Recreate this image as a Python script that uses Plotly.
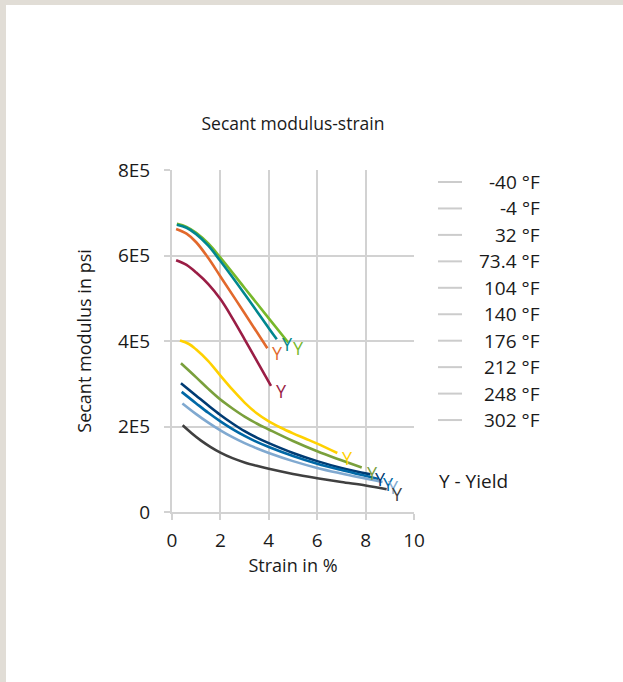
import plotly.graph_objects as go

# ---------------- data ----------------
temps = ["-40 °F", "-4 °F", "32 °F", "73.4 °F", "104 °F",
         "140 °F", "176 °F", "212 °F", "248 °F", "302 °F"]
colors = ["#77B82A", "#00878F", "#E2692C", "#9A1D45", "#FFD100",
          "#7AA03C", "#003B73", "#0068A6", "#80A9D0", "#404040"]

strain_m40 = [0.2, 0.6, 1.0, 1.5, 2.0, 3.0, 4.0, 4.81]
mod_m40 = [6.74e5, 6.67e5, 6.53e5, 6.28e5, 5.95e5, 5.24e5, 4.53e5, 3.96e5]
strain_m4 = [0.2, 0.6, 1.0, 1.5, 2.0, 3.0, 4.0, 4.33]
mod_m4 = [6.72e5, 6.65e5, 6.50e5, 6.23e5, 5.87e5, 5.10e5, 4.30e5, 4.04e5]
strain_32 = [0.17, 0.6, 1.0, 1.5, 2.0, 3.0, 3.94]
mod_32 = [6.62e5, 6.51e5, 6.31e5, 5.94e5, 5.51e5, 4.65e5, 3.83e5]
strain_73 = [0.17, 0.6, 1.0, 1.5, 2.0, 2.5, 3.0, 3.5, 4.09]
mod_73 = [5.89e5, 5.78e5, 5.60e5, 5.33e5, 4.98e5, 4.53e5, 4.04e5, 3.54e5, 2.95e5]
strain_104 = [0.33, 0.7, 1.0, 1.5, 2.0, 2.5, 3.0, 3.5, 4.0, 4.5, 5.0, 5.5, 6.0, 6.83]
mod_104 = [4.01e5, 3.93e5, 3.80e5, 3.53e5, 3.19e5, 2.86e5, 2.56e5, 2.31e5, 2.12e5,
           1.97e5, 1.84e5, 1.72e5, 1.60e5, 1.38e5]
strain_140 = [0.37, 1.0, 1.5, 2.0, 2.5, 3.0, 3.5, 4.0, 5.0, 6.0, 7.0, 7.84]
mod_140 = [3.48e5, 3.15e5, 2.88e5, 2.63e5, 2.42e5, 2.23e5, 2.07e5, 1.93e5, 1.66e5,
           1.42e5, 1.21e5, 1.04e5]
strain_176 = [0.37, 1.0, 1.5, 2.0, 2.5, 3.0, 3.5, 4.0, 5.0, 6.0, 7.0, 8.2]
mod_176 = [3.01e5, 2.72e5, 2.49e5, 2.27e5, 2.07e5, 1.89e5, 1.74e5, 1.61e5, 1.38e5,
           1.19e5, 1.03e5, 0.88e5]
strain_212 = [0.4, 1.0, 1.5, 2.0, 2.5, 3.0, 3.5, 4.0, 5.0, 6.0, 7.0, 8.53]
mod_212 = [2.81e5, 2.54e5, 2.32e5, 2.12e5, 1.94e5, 1.78e5, 1.64e5, 1.52e5, 1.31e5,
           1.13e5, 0.98e5, 0.77e5]
strain_248 = [0.43, 1.0, 1.5, 2.0, 2.5, 3.0, 3.5, 4.0, 5.0, 6.0, 7.0, 8.7]
mod_248 = [2.54e5, 2.29e5, 2.09e5, 1.91e5, 1.75e5, 1.61e5, 1.49e5, 1.38e5, 1.19e5,
           1.03e5, 0.90e5, 0.70e5]
strain_302 = [0.44, 0.8, 1.2, 1.6, 2.0, 2.5, 3.0, 3.5, 4.0, 5.0, 6.0, 7.0, 8.0, 8.87]
mod_302 = [2.03e5, 1.85e5, 1.67e5, 1.52e5, 1.39e5, 1.26e5, 1.16e5, 1.08e5, 1.01e5,
           0.89e5, 0.79e5, 0.70e5, 0.62e5, 0.53e5]

strains = [strain_m40, strain_m4, strain_32, strain_73, strain_104,
           strain_140, strain_176, strain_212, strain_248, strain_302]
moduli = [mod_m40, mod_m4, mod_32, mod_73, mod_104,
          mod_140, mod_176, mod_212, mod_248, mod_302]

x_ticks = [0, 2, 4, 6, 8, 10]
y_ticks = [0, 2e5, 4e5, 6e5, 8e5]
y_ticktext = ["0", "2E5", "4E5", "6E5", "8E5"]

title_text = "Secant modulus-strain"
x_title = "Strain in %"
y_title = "Secant modulus in psi"
yield_note = "Y - Yield"
yield_mark = "Y"

# ---------------- layout helpers ----------------
W, H = 623, 682
PL, PR, PT, PB = 172, 414, 170, 512
FONT = "Open Sans"
TXT = "#1a1a1a"
GRID = "#d2d2d2"
FRAME = "#e1ddd6"


def px_x(p):
    return (p - PL) / (PR - PL)


def px_y(p):
    return (PB - p) / (PB - PT)


fig = go.Figure()
annotations = []
for name, col, xs, ys in zip(temps, colors, strains, moduli):
    fig.add_trace(go.Scatter(x=xs, y=ys, mode="lines", name=name,
                             line=dict(color=col, width=2.6, shape="spline", smoothing=1.0),
                             showlegend=False, hoverinfo="skip"))
    annotations.append(dict(x=xs[-1], y=ys[-1], xref="x", yref="y", text=yield_mark,
                            showarrow=False, xanchor="left", yanchor="middle",
                            xshift=3, yshift=-5,
                            font=dict(family=FONT, size=18, color=col)))

# manual legend (grey line samples, right-aligned labels)
row0, row_step = 182, 26.45
shapes = []
for i, name in enumerate(temps):
    yy = px_y(row0 + i * row_step)
    shapes.append(dict(type="line", xref="paper", yref="paper",
                       x0=px_x(438), x1=px_x(462), y0=yy, y1=yy,
                       line=dict(color="#cccccc", width=2)))
    annotations.append(dict(x=px_x(542), y=yy, xref="paper", yref="paper", text=name,
                            showarrow=False, xanchor="right", yanchor="middle",
                            font=dict(family=FONT, size=19, color=TXT)))

annotations.append(dict(x=px_x(437), y=px_y(481), xref="paper", yref="paper", text=yield_note,
                        showarrow=False, xanchor="left", yanchor="middle",
                        font=dict(family=FONT, size=19, color=TXT)))

# beige page frame (top and left strips)
shapes.append(dict(type="rect", xref="paper", yref="paper", layer="above",
                   x0=px_x(0), x1=px_x(W), y0=px_y(5), y1=px_y(-2),
                   fillcolor=FRAME, line=dict(width=0)))
shapes.append(dict(type="rect", xref="paper", yref="paper", layer="above",
                   x0=px_x(-2), x1=px_x(6), y0=px_y(H + 2), y1=px_y(-2),
                   fillcolor=FRAME, line=dict(width=0)))

axis_common = dict(showgrid=True, gridcolor=GRID, gridwidth=2, zeroline=False,
                   showline=True, linecolor=GRID, linewidth=2,
                   ticks="outside", ticklen=6, tickwidth=2, tickcolor=GRID,
                   tickfont=dict(family=FONT, size=19, color=TXT))

fig.update_layout(
    width=W, height=H, autosize=False,
    margin=dict(l=PL, r=W - PR, t=PT, b=H - PB, pad=0),
    paper_bgcolor="white", plot_bgcolor="white",
    title=dict(text=title_text, x=0.5, xref="paper", xanchor="center",
               y=1 - 124 / H, yref="container", yanchor="middle",
               font=dict(family=FONT, size=17.5, color=TXT)),
    xaxis=dict(range=[0, 10], tickvals=x_ticks, ticklabelstandoff=4,
               title=dict(text=x_title, standoff=8, font=dict(family=FONT, size=18, color=TXT)),
               **axis_common),
    yaxis=dict(range=[0, 8e5], tickvals=y_ticks, ticktext=y_ticktext, ticklabelstandoff=10,
               title=dict(text=y_title, standoff=22, font=dict(family=FONT, size=18, color=TXT)),
               **axis_common),
    shapes=shapes,
    annotations=annotations,
    showlegend=False,
    hovermode=False,
)

fig.write_html("out.html", config={"displayModeBar": False, "staticPlot": True},
               post_script="document.body.style.margin='0px';")
